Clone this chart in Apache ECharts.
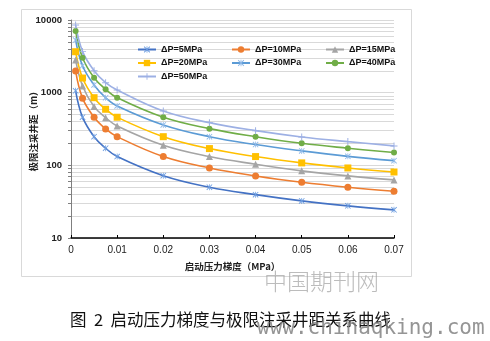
<!DOCTYPE html>
<html>
<head>
<meta charset="utf-8">
<script src="https://cdn.jsdelivr.net/npm/echarts@6/dist/echarts.min.js"></script>
<style>html,body{margin:0;padding:0;background:#fff;}#c{width:490px;height:341px;}</style>
</head>
<body>
<div id="c"></div>
<script>
var xValues = [0.001, 0.0025, 0.005, 0.0075, 0.01, 0.02, 0.03, 0.04, 0.05, 0.06, 0.07];
var seriesNames = ['ΔP=5MPa', 'ΔP=10MPa', 'ΔP=15MPa', 'ΔP=20MPa', 'ΔP=30MPa', 'ΔP=40MPa', 'ΔP=50MPa'];
var dp5  = [1060, 460, 248, 172, 132, 72, 50, 39.5, 32.4, 27.7, 24.4];
var dp10 = [1990, 840, 459, 317, 248, 132, 92, 71.5, 58.5, 50, 44];
var dp15 = [2820, 1236, 643, 453, 348, 189, 132, 103.5, 84, 71.5, 63];
var dp20 = [3660, 1590, 853, 591, 459, 248, 170, 132, 108, 92, 81];
var dp30 = [5300, 2350, 1276, 853, 656, 360, 248, 193, 158, 133, 116];
var dp40 = [7060, 3030, 1608, 1114, 853, 459, 320, 248, 201, 172, 150];
var dp50 = [8540, 3700, 2008, 1374, 1089, 560, 387, 300, 246, 212, 185];
var xTicks = [0, 0.01, 0.02, 0.03, 0.04, 0.05, 0.06, 0.07];
var yTicks = [10, 100, 1000, 10000];

var allValues = [dp5, dp10, dp15, dp20, dp30, dp40, dp50];
var colors = ['#4472C4', '#ED7D31', '#A5A5A5', '#FFC000', '#5B9BD5', '#70AD47', '#9DB0E4'];
var asterisk = 'path://M1,0 L10,9 L9,10 L0,1 Z M9,0 L10,1 L1,10 L0,9 Z M4.4,0 L5.6,0 L5.6,10 L4.4,10 Z';
var plus = 'path://M4.3,0 L5.7,0 L5.7,10 L4.3,10 Z M0,4.3 L10,4.3 L10,5.7 L0,5.7 Z';
var symbols = [asterisk, 'circle', 'triangle', 'rect', asterisk, 'circle', plus];
var symSizes = [6, 7, 7, 7, 6, 6, 7];
var symColors = ['#6E9EE0', '#ED7D31', '#A5A5A5', '#FFC000', '#8DB8E8', '#70AD47', '#9DB0E4'];

var minorVals = [];
[10, 100, 1000].forEach(function (d) { for (var k = 1; k <= 9; k++) minorVals.push(d * k); });
minorVals.push(10000);

var series = seriesNames.map(function (n, i) {
  return {
    name: n, type: 'line', smooth: 0.4,
    data: xValues.map(function (x, j) { return [x, allValues[i][j]]; }),
    symbol: symbols[i], symbolSize: symSizes[i], showSymbol: true,
    lineStyle: { color: colors[i], width: 1.6 },
    itemStyle: { color: symColors[i] },
    color: colors[i]
  };
});

var chart = echarts.init(document.getElementById('c'), null, { renderer: 'canvas' });
var legendText = { fontSize: 9, fontWeight: 'bold', color: '#111', fontFamily: 'Liberation Sans, Arial, sans-serif' };
function mkLegend(left, names) {
  return { left: left, top: 45, orient: 'vertical', itemWidth: 18, itemHeight: 8, itemGap: 4.5,
           data: names, textStyle: legendText, padding: 0 };
}
chart.setOption({
  animation: false,
  backgroundColor: '#fff',
  grid: { left: 71, right: 96, top: 20, bottom: 103 },
  legend: [
    mkLegend(137, ['ΔP=5MPa', 'ΔP=20MPa', 'ΔP=50MPa']),
    mkLegend(231, ['ΔP=10MPa', 'ΔP=30MPa']),
    mkLegend(325, ['ΔP=15MPa', 'ΔP=40MPa'])
  ],
  xAxis: {
    type: 'value', min: 0, max: 0.07, interval: 0.01,
    name: '启动压力梯度（MPa）', nameLocation: 'middle', nameGap: 24,
    nameTextStyle: { fontSize: 9.5, fontWeight: 'bold', color: '#222', fontFamily: 'Noto Sans CJK SC' },
    axisLine: { lineStyle: { color: '#000', width: 1.5 } },
    axisTick: { inside: true, length: 3, lineStyle: { color: '#000' } },
    axisLabel: { fontSize: 10, color: '#222', margin: 7, fontFamily: 'Liberation Sans, Arial',
                 customValues: xTicks,
                 formatter: function (v) { return String(+v.toFixed(2)); } },
    splitLine: { show: false }
  },
  yAxis: {
    type: 'log', logBase: 10, min: 10, max: 10000,
    name: '极限注采井距（m）', nameLocation: 'middle', nameGap: 33, nameMoveOverlap: false,
    nameTextStyle: { fontSize: 9.5, fontWeight: 'bold', color: '#222', fontFamily: 'Noto Sans CJK SC' },
    axisLine: { show: true, lineStyle: { color: '#7f7f7f', width: 1 } },
    axisTick: { show: true, length: 3, customValues: minorVals, lineStyle: { color: '#7f7f7f' } },
    axisLabel: { fontSize: 9.5, fontWeight: 'bold', color: '#222', margin: 9, fontFamily: 'Liberation Sans, Arial',
                 customValues: yTicks, formatter: function (v) { return String(Math.round(v)); } },
    splitLine: { show: true, lineStyle: { color: '#d9d9d9', width: 1 } }
  },
  series: series,
  graphic: [
    { type: 'rect', shape: { x: 21.5, y: 9.5, width: 390, height: 267 }, style: { fill: 'none', stroke: '#d9d9d9', lineWidth: 1 }, z: -1, silent: true },
    { type: 'text', left: 70, top: 311, style: { text: '图  2  启动压力梯度与极限注采井距关系曲线', font: '16.5px "Noto Sans CJK SC"', fill: '#111' } },
    { type: 'text', left: 264, top: 270, style: { text: '中国期刊网', font: '300 23px "Noto Sans CJK SC"', fill: 'rgba(160,160,160,0.7)' } },
    { type: 'text', left: 257, top: 318, style: { text: 'www.chinaqking.com', font: '21px "DejaVu Sans Mono"', fill: 'rgba(130,130,130,0.85)' } }
  ]
});
</script>
</body>
</html>
